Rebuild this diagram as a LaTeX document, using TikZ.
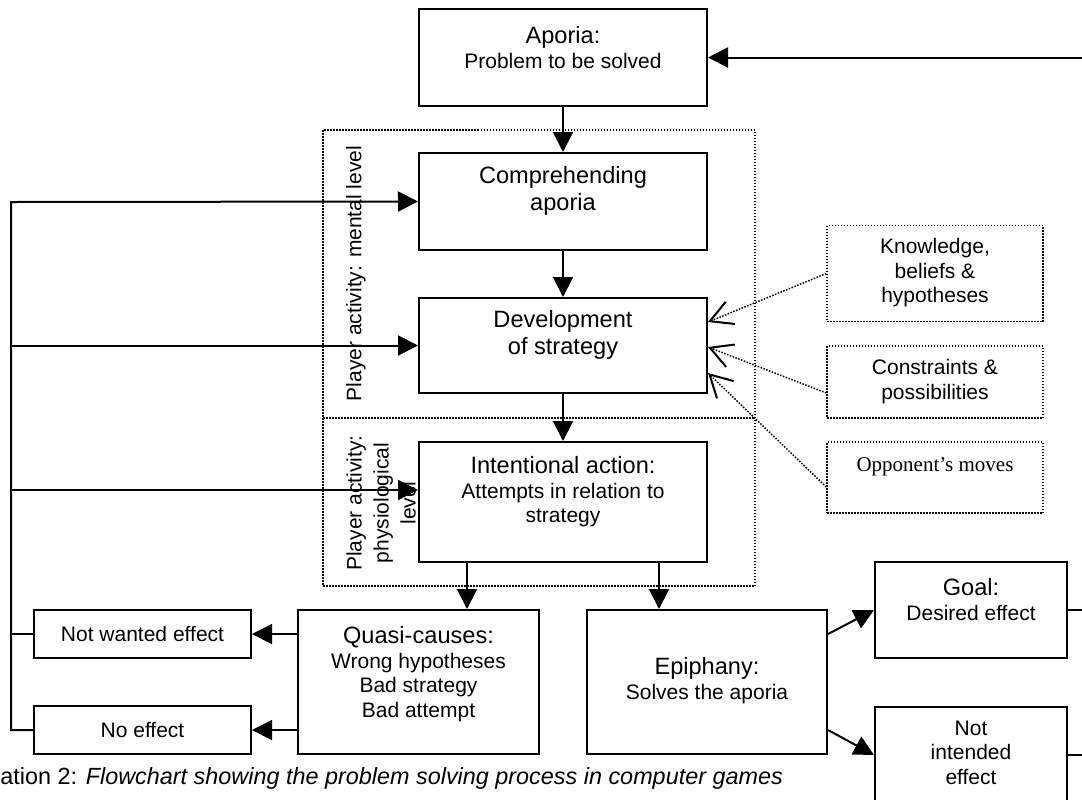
\documentclass[tikz,border=0pt]{standalone}
\usepackage{fontspec}
\setmainfont{Liberation Sans}
\newfontfamily\timesfont{Liberation Serif}
\usepackage{tikz}
\usetikzlibrary{%
  arrows.meta,%
  calc,%
  positioning}
\newcommand{\grand}{\fontsize{11.8}{13.5}\selectfont}
\newcommand{\petit}{\fontsize{10.5}{12.25}\selectfont}

\begin{document}
\begin{tikzpicture}[x=0.5pt,y=-0.5pt,
  boite/.style={rectangle,draw,line width=1pt,inner sep=0pt,font=\petit},
  pointille/.style={line width=0.75pt,dash pattern=on 0.75pt off 0.75pt},
  source/.style={rectangle,draw,pointille,inner sep=0pt,font=\petit},
  fleche/.style={line width=1pt,-{Triangle[length=10pt,width=10pt]}},
  lien/.style={line width=1pt},
  influence/.style={pointille,-{Straight Barb[length=11pt,width=12pt,line width=1pt]}}]
\useasboundingbox (0,0) rectangle (1082,799);
% zones de l'activite du joueur
\draw[pointille] (323,130) rectangle (755,586);
\draw[pointille] (323,418) -- (755,418);
\node (M) at (356,273.5) [rotate=90,font=\petit] {Player activity: mental level};
\node (P) at (381,503) [rotate=90,align=center,font=\fontsize{10.5}{13.5}\selectfont] {Player activity:\\physiological\\level};
% description et nommage des noeuds
\node (A) at (563,57.5) [boite,minimum width=144pt,minimum height=48.5pt] {\begin{tabular}{c}\grand Aporia:\\Problem to be solved\\[6.5pt]\end{tabular}};
\node (C) at (563,201.5) [boite,font=\grand,minimum width=144pt,minimum height=48.5pt] {\begin{tabular}{c}Comprehending\\aporia\\[9.5pt]\end{tabular}};
\node (S) at (563,345.5) [boite,font=\grand,minimum width=144pt,minimum height=47.5pt] {\begin{tabular}{c}Development\\of strategy\\[9.5pt]\end{tabular}};
\node (I) at (563,502) [boite,minimum width=144pt,minimum height=60pt] {\begin{tabular}{c}\grand Intentional action:\\Attempts in relation to\\strategy\\[8.5pt]\end{tabular}};
\node (Q) at (418.5,682) [boite,minimum width=120.5pt,minimum height=72pt] {\begin{tabular}{c}\grand Quasi-causes:\\Wrong hypotheses\\Bad strategy\\Bad attempt\\[6.5pt]\end{tabular}};
\node (E) at (707,682) [boite,minimum width=120pt,minimum height=72pt] {\begin{tabular}{c}\grand Epiphany:\\Solves the aporia\end{tabular}};
\node (G) at (971,610) [boite,minimum width=96pt,minimum height=48pt] {\begin{tabular}{c}\grand Goal:\\Desired effect\\[7pt]\end{tabular}};
\node (N) at (971,755) [boite,minimum width=96pt,minimum height=48pt] {\begin{tabular}{c}Not\\intended\\effect\end{tabular}};
\node (W) at (142.5,634) [boite,minimum width=108.5pt,minimum height=24pt] {Not wanted effect};
\node (NE) at (142.5,730) [boite,minimum width=108.5pt,minimum height=24pt] {No effect};
\node (K) at (935,273.5) [source,minimum width=108pt,minimum height=48pt] {\begin{tabular}{c}Knowledge,\\beliefs \&\\hypotheses\end{tabular}};
\node (CP) at (935,382) [source,minimum width=108pt,minimum height=36pt] {\begin{tabular}{c}Constraints \&\\possibilities\end{tabular}};
\node (O) at (935,477.5) [source,minimum width=108pt,minimum height=35.5pt] {\begin{tabular}{c}\timesfont Opponent’s moves\\[10.5pt]\end{tabular}};
\node (T) at (790,784) [anchor=base east,font=\fontsize{11.7}{14}\selectfont] {ation 2: \textit{Flowchart showing the problem solving process in computer games}};
% liaisons
\coordinate (R) at (1082,57.5);
\coordinate (RG) at (1082,610);
\coordinate (RN) at (1082,755);
\coordinate (F) at (11,202);
\coordinate (I1) at ($(I.west)+(0,-12)$);
\draw[fleche] (R) -- (A.east);
\draw[fleche] (A) -- (C);
\draw[fleche] (C) -- (S);
\draw[fleche] (S) -- (I);
\draw[fleche] ([xshift=-48pt]I.south) -- ([xshift=-48pt]I.south |- Q.north);
\draw[fleche] ([xshift=48pt]I.south) -- ([xshift=48pt]I.south |- E.north);
\draw[fleche] (W.east -| Q.west) -- (W.east);
\draw[fleche] (NE.east -| Q.west) -- (NE.east);
\draw[fleche] ([yshift=24pt]E.east) -- (G.west);
\draw[fleche] ([yshift=-24pt]E.east) -- (N.west);
\draw[lien] (G.east) -- (RG);
\draw[lien] (N.east) -- (RN);
% retour vers le joueur
\draw[fleche] (NE.west) -| (F) -- (C.west);
\draw[lien] (W.west) -- (W.west -| F);
\draw[fleche] (F |- S.west) -- (S.west);
\draw[fleche] (F |- I1) -- (I1);
% influences
\draw[influence] (K.west) -- ($(S.east)+(0,-23.5)$);
\draw[influence] ($(CP.west)+(0,11)$) -- ($(S.east)+(0,1.5)$);
\draw[influence] ($(O.west)+(0,9.5)$) -- ($(S.east)+(0,27.5)$);
\end{tikzpicture}
\end{document}
